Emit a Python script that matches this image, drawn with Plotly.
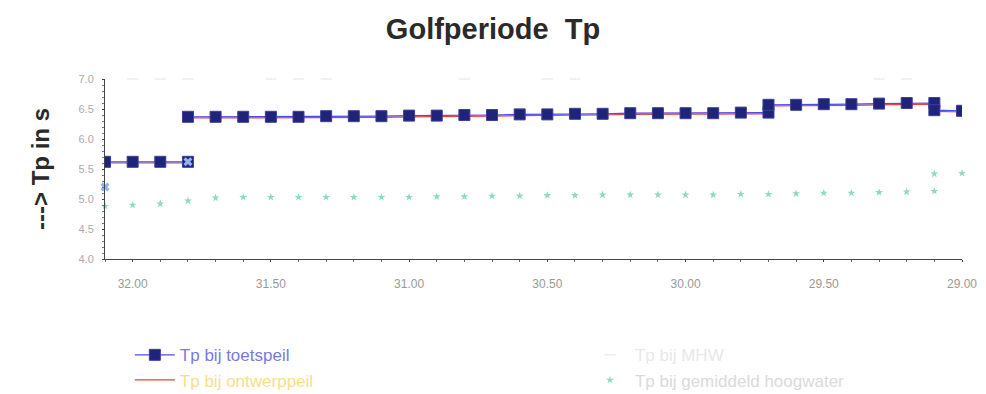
import plotly.graph_objects as go

# Golfperiode Tp langs het traject (km 32.1 -> 29.0)
tick_km = [32.0, 31.5, 31.0, 30.5, 30.0, 29.5, 29.0]
tick_labels = ["32.00", "31.50", "31.00", "30.50", "30.00", "29.50", "29.00"]

# Tp bij toetspeil (sprongen bij km 31.8, 29.7 en 29.1)
toets_km = [32.1, 32.0, 31.9, 31.8, None,
            31.8, 31.7, 31.6, 31.5, 31.4, 31.3, 31.2, 31.1, 31.0, 30.9, 30.8,
            30.7, 30.6, 30.5, 30.4, 30.3, 30.2, 30.1, 30.0, 29.9, 29.8, 29.7,
            29.7, 29.6, 29.5, 29.4, 29.3, 29.2, 29.1, 29.1, 29.0]
toets_tp = [5.62, 5.62, 5.62, 5.62, None,
            6.37, 6.37, 6.37, 6.37, 6.37, 6.38, 6.38, 6.38, 6.39, 6.39, 6.40,
            6.40, 6.41, 6.41, 6.42, 6.42, 6.43, 6.43, 6.43, 6.43, 6.44, 6.44,
            6.57, 6.57, 6.58, 6.58, 6.59, 6.60, 6.60, 6.48, 6.47]

# Tp bij ontwerppeil
ontwerp_km = toets_km
ontwerp_tp = [5.60, 5.60, 5.60, 5.60, None,
              6.35, 6.35, 6.35, 6.35, 6.35, 6.36, 6.36, 6.36, 6.37, 6.37, 6.38,
              6.38, 6.39, 6.39, 6.40, 6.40, 6.41, 6.41, 6.41, 6.41, 6.42, 6.42,
              6.55, 6.55, 6.56, 6.56, 6.57, 6.58, 6.58, 6.46, 6.45]

# Tp bij maatgevend hoogwater (valt grotendeels op de bovenrand)
mhw_km = [32.0, 31.9, 31.8, 31.5, 31.4, 31.3, 30.8, 30.5, 30.4, 29.3, 29.2]
mhw_tp = [7.0, 7.0, 7.0, 7.0, 7.0, 7.0, 7.0, 7.0, 7.0, 7.0, 7.0]

# Tp bij gemiddeld hoogwater
ghw_km = [32.1, 32.0, 31.9, 31.8, 31.7, 31.6, 31.5, 31.4, 31.3, 31.2, 31.1,
          31.0, 30.9, 30.8, 30.7, 30.6, 30.5, 30.4, 30.3, 30.2, 30.1, 30.0,
          29.9, 29.8, 29.7, 29.6, 29.5, 29.4, 29.3, 29.2, 29.1, 29.1, 29.0]
ghw_tp = [4.88, 4.90, 4.92, 4.97, 5.02, 5.03, 5.03, 5.03, 5.03, 5.03, 5.03,
          5.03, 5.04, 5.04, 5.05, 5.05, 5.06, 5.06, 5.07, 5.07, 5.07, 5.07,
          5.07, 5.08, 5.08, 5.09, 5.10, 5.10, 5.11, 5.12, 5.13, 5.42, 5.43]

# losse overgangspunten
overgang_km = [32.1, 31.8]
overgang_tp = [5.20, 5.62]

FONT = "Liberation Sans, Arial, sans-serif"

fig = go.Figure()

fig.add_trace(go.Scatter(
    x=ontwerp_km, y=ontwerp_tp, mode="lines",
    line=dict(color="#e8413c", width=1.2),
    name="<span style='color:#f5e08a'>Tp bij ontwerppeil</span>",
    legend="legend", legendrank=2,
))
fig.add_trace(go.Scatter(
    x=toets_km, y=toets_tp, mode="lines+markers",
    line=dict(color="#4a4cf0", width=1.2),
    marker=dict(symbol="square", size=11, color="#1f2478",
                line=dict(color="#3a3f9a", width=1)),
    name="<span style='color:#7a7ad8'>Tp bij toetspeil</span>",
    legend="legend", legendrank=1,
))
fig.add_trace(go.Scatter(
    x=mhw_km, y=mhw_tp, mode="markers", cliponaxis=False,
    marker=dict(symbol="line-ew-open", size=8, color="#e2e2e2",
                line=dict(color="#e2e2e2", width=1)),
    name="<span style='color:#e8e8e8'>Tp bij MHW</span>",
    legend="legend2", legendrank=1,
))
fig.add_trace(go.Scatter(
    x=ghw_km, y=ghw_tp, mode="markers", cliponaxis=False,
    marker=dict(symbol="star", size=6, color="#8adcbb"),
    name="<span style='color:#dadada'>Tp bij gemiddeld hoogwater</span>",
    legend="legend2", legendrank=2,
))
fig.add_trace(go.Scatter(
    x=overgang_km, y=overgang_tp, mode="markers", cliponaxis=False,
    marker=dict(symbol="x", size=8, color="#8fb4f0"),
    showlegend=False, hoverinfo="skip",
))

legend_common = dict(orientation="v", yanchor="top", y=-0.435, xanchor="left",
                     bgcolor="rgba(0,0,0,0)", itemwidth=40, tracegroupgap=0,
                     font=dict(family=FONT, size=17, color="#8888cc"))

fig.update_layout(
    width=986, height=394,
    margin=dict(l=105, r=24, t=79, b=135, autoexpand=False),
    paper_bgcolor="white", plot_bgcolor="white",
    font=dict(family=FONT, color="#999999"),
    title=dict(text="<b>Golfperiode\u00a0\u00a0Tp</b>", x=0.5, xanchor="center",
               y=0.927, yanchor="middle",
               font=dict(family=FONT, size=29, color="#2a2a2a")),
    showlegend=True,
    legend=dict(x=0.029, **legend_common),
    legend2=dict(x=0.56, **legend_common),
)

fig.update_xaxes(
    range=[32.1, 29.0], tickvals=tick_km, ticktext=tick_labels,
    showgrid=False, zeroline=False, showline=True,
    linecolor="#444444", linewidth=1,
    ticks="outside", ticklen=2, tickcolor="#444444",
    minor=dict(tick0=29.0, dtick=0.1, ticks="outside", ticklen=2, tickcolor="#666666"),
    tickfont=dict(family=FONT, size=12, color="#999999"),
    ticklabelstandoff=12,
)
fig.update_yaxes(
    range=[4.0, 7.0], tickvals=[4.0, 4.5, 5.0, 5.5, 6.0, 6.5, 7.0], tickformat=".1f",
    showgrid=False, zeroline=False, showline=True,
    linecolor="#444444", linewidth=1,
    ticks="outside", ticklen=2, tickcolor="#444444",
    minor=dict(dtick=0.1, ticks="outside", ticklen=2, tickcolor="#777777"),
    tickfont=dict(family=FONT, size=11, color="#aaaaaa"),
    ticklabelstandoff=6,
    title=dict(text="<b>---> Tp in s</b>", standoff=22,
               font=dict(family=FONT, size=24, color="#2a2a2a")),
)

fig.write_html("out.html")
